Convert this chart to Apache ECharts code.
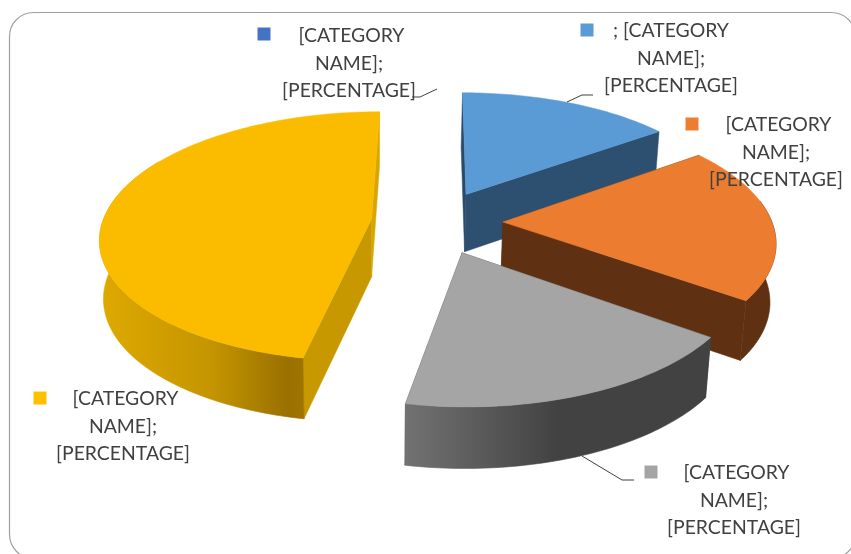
<!DOCTYPE html>
<html>
<head>
<meta charset="utf-8">
<style>html,body{margin:0;padding:0;background:#fff}#c{width:851px;height:554px}</style>
<script src="https://cdn.jsdelivr.net/npm/echarts@6/dist/echarts.min.js"></script>
</head>
<body>
<div id="c"></div>
<script>
const categories = [' [CATEGORY\nNAME];\n[PERCENTAGE]', '; [CATEGORY\nNAME];\n[PERCENTAGE]', ' [CATEGORY\nNAME];\n[PERCENTAGE]', ' [CATEGORY\nNAME];\n[PERCENTAGE]', ' [CATEGORY\nNAME];\n[PERCENTAGE]'];
const values = [0, 15, 20, 18, 47];

const sliceColors = ['#4472c4', '#5b9bd5', '#eb7c30', '#a5a5a5', '#fbbc00'];
const keyColors = ['#4472c4', '#5b9bd5', '#ed7d31', '#a5a5a5', '#ffc000'];
const startFaces = ['#2a4474', '#2a4a6c', '#5f3112', '#4a4a4a', '#c79800'];
const endFaces = ['#2a4474', '#2e5070', '#5f3112', '#4a4a4a', '#d9a600'];
const rimStops = [
  [[0, '#2a4474'], [1, '#2a4474']],
  [[0, '#2e5070'], [1, '#2e5070']],
  [[0, '#5f3112'], [1, '#5f3112']],
  [[0, '#727272'], [0.5, '#424242'], [1, '#424242']],
  [[0, '#dfa900'], [0.55, '#c49500'], [0.92, '#9a7000'], [1, '#a07400']]
];
const labelLayout = [
  { key: [264, 34], text: [349, 35] },
  { key: [587, 30], text: [671, 30] },
  { key: [692, 124], text: [776, 124] },
  { key: [651, 472], text: [734, 472] },
  { key: [40, 398], text: [123, 398] }
];
const leaders = [
  [[412, 97], [420, 97], [437, 89]],
  [[567, 102], [582, 95], [593, 95]],
  null,
  [[582, 456], [622, 480], [634, 480]],
  null
];

const G = { cx: 437, cy: 222, a: 269, b: 123, p: 0.14, ex: 0.245, ey: 0.26, depth: 58, lowCx: 370, lowScale: 0.985 };

const total = values.reduce((s, v) => s + v, 0);
const angles = [];
let acc = 0;
values.forEach(v => { angles.push([acc / total * Math.PI * 2, (acc + v) / total * Math.PI * 2]); acc += v; });

function project(X, Y, down) {
  const w = 1 - G.p * Y;
  const x = G.cx + G.a * X / w, y = G.cy + G.b * Y / w;
  if (!down) return [x, y];
  return [G.lowCx + (x - G.lowCx) * G.lowScale, y + G.depth * (1 + 0.05 * Y)];
}

function renderSlice(params) {
  const i = params.dataIndex;
  if (values[i] === 0) return null;
  const t0 = angles[i][0], t1 = angles[i][1], mid = (t0 + t1) / 2;
  const ox = G.ex * Math.sin(mid), oy = -G.ey * Math.cos(mid);
  const arc = (from, to, down) => {
    const pts = [];
    const n = Math.max(4, Math.ceil((to - from) / 0.02));
    for (let k = 0; k <= n; k++) {
      const t = from + (to - from) * k / n;
      pts.push(project(ox + Math.sin(t), oy - Math.cos(t), down));
    }
    return pts;
  };
  const top = arc(t0, t1, false);
  const low = arc(t0, t1, true);
  const apexT = project(ox, oy, false), apexB = project(ox, oy, true);
  const poly = (points, fill) => ({
    type: 'polygon', shape: { points },
    style: { fill, stroke: fill, lineWidth: 0.5 }
  });
  const children = [
    poly([apexT, top[0], low[0], apexB], startFaces[i]),
    poly([apexT, top[top.length - 1], low[low.length - 1], apexB], endFaces[i])
  ];
  // only the part of the rim that faces the viewer is drawn
  const f0 = Math.max(t0, 80 * Math.PI / 180), f1 = Math.min(t1, 300 * Math.PI / 180);
  if (f1 > f0) {
    const grad = { type: 'linear', x: 0, y: 0, x2: 1, y2: 0,
      colorStops: rimStops[i].map(s => ({ offset: s[0], color: s[1] })) };
    children.push({ type: 'polygon',
      shape: { points: arc(f0, f1, false).concat(arc(f0, f1, true).reverse()) },
      style: { fill: grad, stroke: grad, lineWidth: 0.6 } });
  }
  children.push(poly([apexT].concat(top), sliceColors[i]));
  return { type: 'group', children };
}

function renderLabel(params) {
  const i = params.dataIndex;
  const L = labelLayout[i];
  const children = [
    { type: 'rect', shape: { x: L.key[0] - 6.5, y: L.key[1] - 6.5, width: 13, height: 13 }, style: { fill: keyColors[i] } },
    { type: 'text', x: L.text[0], y: L.text[1] - 13,
      style: { text: categories[i], fill: '#404040', font: '19.4px Lato', align: 'center', verticalAlign: 'top', lineHeight: 27.5 } }
  ];
  if (leaders[i]) {
    children.unshift({ type: 'polyline', shape: { points: leaders[i] }, style: { fill: null, stroke: '#404040', lineWidth: 1 } });
  }
  return { type: 'group', children };
}

const chart = echarts.init(document.getElementById('c'), null, { renderer: 'canvas' });
chart.setOption({
  animation: false,
  backgroundColor: '#fff',
  graphic: [{
    type: 'rect', z: 0, silent: true,
    shape: { x: 9.5, y: 12.5, width: 846, height: 546, r: 24 },
    style: { fill: '#fff', stroke: '#a0a0a0', lineWidth: 1.2 }
  }],
  series: [
    { type: 'custom', coordinateSystem: 'none', z: 2, silent: true, data: values, renderItem: renderSlice },
    { type: 'custom', coordinateSystem: 'none', z: 3, silent: true, data: categories.map((c, i) => i), renderItem: renderLabel }
  ]
});
</script>
</body>
</html>
